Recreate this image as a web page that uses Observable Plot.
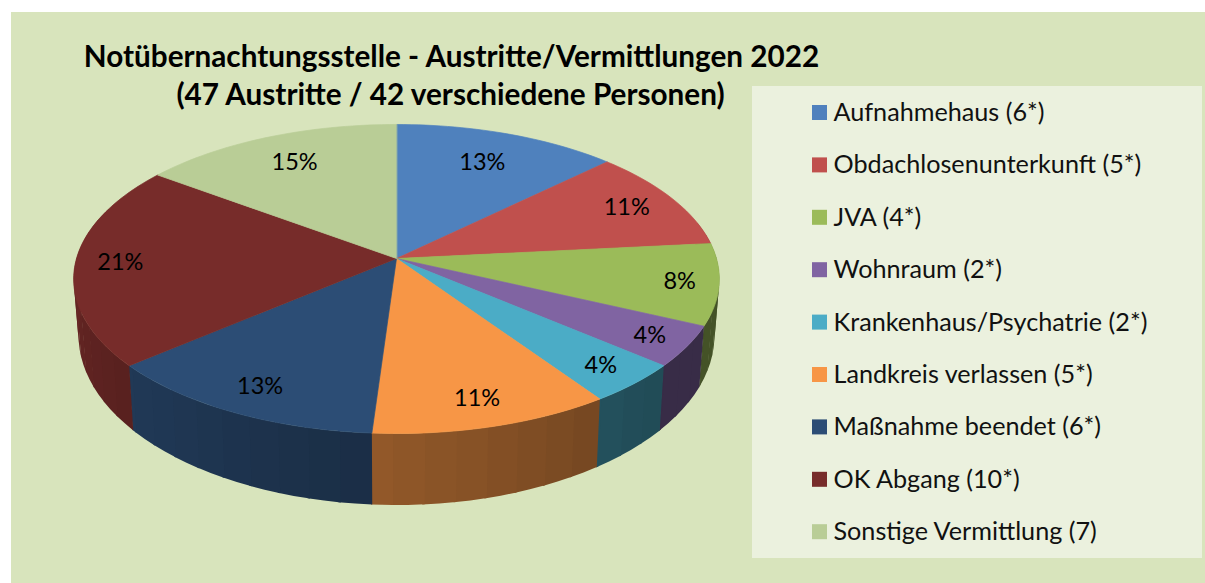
<!DOCTYPE html>
<html>
<head>
<meta charset="utf-8">
<script src="https://cdn.jsdelivr.net/npm/d3@7"></script>
<script src="https://cdn.jsdelivr.net/npm/@observablehq/plot@0.6"></script>
<style>html,body{margin:0;padding:0;background:#fff}svg{display:block}</style>
</head>
<body>
<div id="chart"></div>
<script>
const titleLines = ["Notübernachtungsstelle - Austritte/Vermittlungen 2022", "(47 Austritte / 42 verschiedene Personen)"];
const categories = ["Aufnahmehaus (6*)", "Obdachlosenunterkunft (5*)", "JVA (4*)", "Wohnraum (2*)", "Krankenhaus/Psychatrie (2*)", "Landkreis verlassen (5*)", "Maßnahme beendet (6*)", "OK Abgang (10*)", "Sonstige Vermittlung (7)"];
const values = [6, 5, 4, 2, 2, 5, 6, 10, 7];
const percentLabels = ["13%", "11%", "8%", "4%", "4%", "11%", "13%", "21%", "15%"];
const colors = ["#4f81bd", "#c0504d", "#9bbb59", "#8064a2", "#4bacc6", "#f79646", "#2c4d75", "#772c2a", "#b9cd96"];
const labelRadius = [0.75, 0.83, 0.88, 0.88, 0.87, 0.85, 0.85, 0.86, 0.77];

// Perspective of the pie: the disc's centre and how it projects to the page
const W = 1205, H = 583;
const cx = 396, cy = 258, a = 320, b = 151.8, k = 0.1327;
const project = (r, deg) => {
  const t = deg * Math.PI / 180, X = r * Math.sin(t), Y = -r * Math.cos(t), w = 1 - k * Y;
  return {u: a * X / w, v: b * Y / w};
};
const topPt = (r, deg) => { const p = project(r, deg); return {x: cx + p.u, y: cy + p.v}; };
const bottomPt = (deg) => { const p = project(1, deg); return {x: cx + p.u * 0.985, y: cy + p.v * 1.1 + 54}; };

const total = d3.sum(values);
const cum = d3.cumsum(values);
const slices = values.map((v, i) => ({i, a0: (cum[i] - v) / total * 360, a1: cum[i] / total * 360}));

const shade = (deg) => 0.44 + 0.46 * Math.max(0, Math.min(1, (deg - 135) / 145));

const topFaces = slices.flatMap(s => {
  const n = Math.ceil((s.a1 - s.a0) / 1.5);
  const rim = d3.range(n + 1).map(j => topPt(1, s.a0 + (s.a1 - s.a0) * j / n));
  return [{x: cx, y: cy}, ...rim].map(p => ({...p, key: "t" + s.i, color: colors[s.i]}));
});

// Side wall: bands of one shade each, painted in rim order and overlapping the next slightly
const sideQuads = slices.flatMap(s => {
  const step = 5, out = [];
  for (let d = s.a0; d < s.a1 - 0.01; d += step) {
    const e = Math.min(d + step, s.a1), m = (d + e) / 2;
    if (m < 78 || m > 290) continue;
    const c = d3.rgb(colors[s.i]);
    const f = shade(m);
    const color = d3.rgb(c.r * f, c.g * f, c.b * f).formatHex();
    const key = "s" + s.i + "_" + d.toFixed(2);
    const e2 = Math.min(e + 0.4, s.a1 + 0.2);
    [topPt(1, d), topPt(1, (d + e2) / 2), topPt(1, e2), bottomPt(e2), bottomPt((d + e2) / 2), bottomPt(d)].forEach(p => out.push({...p, key, color}));
  }
  return out;
});

const labels = slices.map(s => ({...topPt(labelRadius[s.i], (s.a0 + s.a1) / 2), text: percentLabels[s.i]}));

const font = "Lato, 'Open Sans', sans-serif";
const legendRows = categories.map((c, i) => ({c, color: colors[i], y: 112.5 + i * 52.4}));

const chart = Plot.plot({
  width: W, height: H,
  margin: 0,
  x: {domain: [0, W], range: [0, W], axis: null},
  y: {domain: [0, H], range: [0, H], axis: null},
  color: {type: "identity"},
  style: {background: "transparent"},
  marks: [
    Plot.rect([{}], {x1: () => 11, x2: () => W, y1: () => 12, y2: () => H, fill: "#d8e4bc"}),
    Plot.rect([{}], {x1: () => 752, x2: () => 1202, y1: () => 86, y2: () => 558, fill: "#ebf1de"}),
    Plot.line(sideQuads, {x: "x", y: "y", z: "key", fill: "color", stroke: "none", curve: "linear-closed"}),
    Plot.line(topFaces, {x: "x", y: "y", z: "key", fill: "color", stroke: "color", strokeWidth: 0.7, curve: "linear-closed"}),
    Plot.text(labels, {x: "x", y: "y", text: "text", fontSize: 23.5, fontFamily: font, fill: "#000"}),
    Plot.text(titleLines, {x: (d, i) => [451, 450][i], y: (d, i) => [57, 95][i], text: d => d, fontSize: 29.7, fontWeight: 700, fontFamily: font, fill: "#000"}),
    Plot.rect(legendRows, {x1: () => 812, x2: () => 827, y1: d => d.y - 7.5, y2: d => d.y + 7.5, fill: "color"}),
    Plot.text(legendRows, {x: () => 833, y: "y", text: "c", textAnchor: "start", fontSize: 25.2, fontFamily: font, fill: "#111"})
  ]
});
document.getElementById("chart").append(chart);
</script>
</body>
</html>
